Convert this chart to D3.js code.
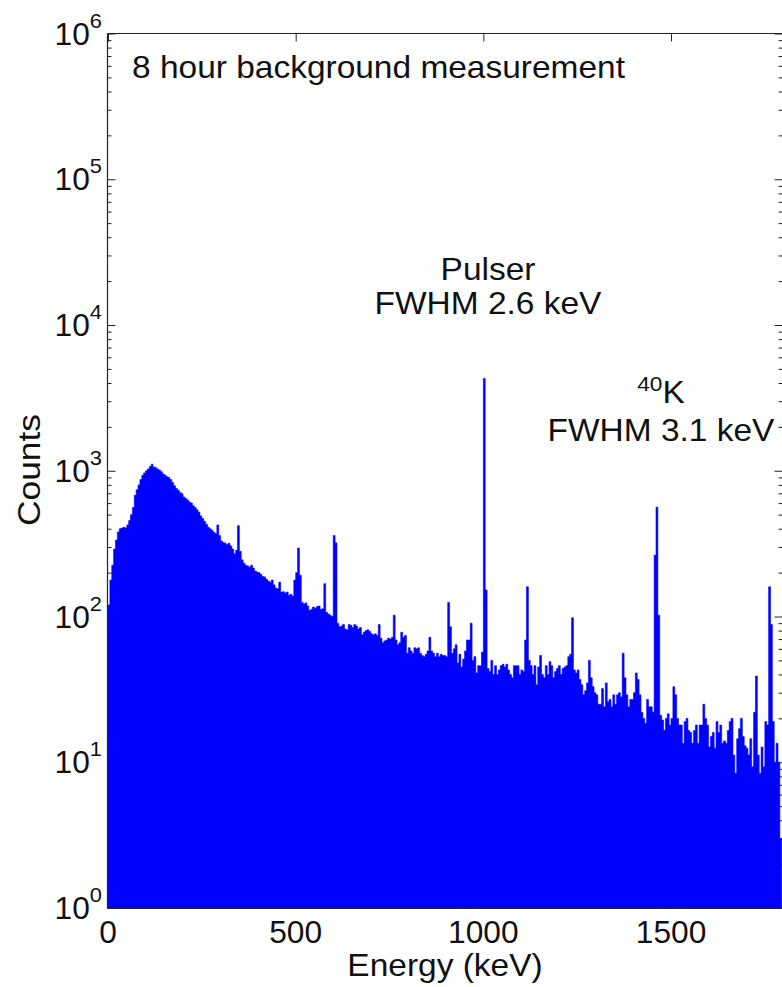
<!DOCTYPE html>
<html>
<head>
<meta charset="utf-8">
<script src="https://cdn.jsdelivr.net/npm/d3@7/dist/d3.min.js"></script>
<style>
  html, body { margin: 0; padding: 0; background: #fff; }
  svg { display: block; }
  text { font-family: "Liberation Sans", Arial, Helvetica, sans-serif; fill: #111; }
</style>
</head>
<body>
<svg id="chart" width="782" height="987"></svg>
<script>
// ---------- data (counts per 5 keV bin) ----------
const binWidthKeV = 5;
const counts0to500 = [
  120, 178, 225, 290, 335, 380, 400, 405, 410, 405,
  425, 455, 500, 560, 680, 740, 800, 870, 930, 965,
  1000, 1030, 1070, 1110, 1060, 1050, 1030, 1010, 985, 950,
  930, 910, 900, 870, 830, 790, 755, 735, 710, 695,
  660, 645, 630, 610, 600, 575, 560, 540, 520, 490,
  470, 450, 430, 410, 400, 390, 378, 370, 425, 360,
  330, 322, 318, 312, 318, 305, 290, 270, 285, 420,
  280, 245, 232, 225, 222, 218, 225, 215, 205, 202,
  200, 195, 188, 187, 180, 175, 172, 178, 165, 157,
  155, 172, 147, 148, 145, 147, 140, 142, 138, 178
];
const counts500to1000 = [
  200, 295, 192, 125, 122, 124, 118, 110, 112, 116,
  114, 117, 118, 112, 113, 168, 107, 104, 102, 100,
  360, 320, 90, 85, 86, 88, 82, 81, 88, 87,
  84, 88, 86, 82, 84, 75, 78, 80, 81, 79,
  76, 75, 76, 74, 88, 71, 66, 68, 69, 71,
  70, 72, 102, 69, 64, 66, 78, 72, 74, 56,
  61, 58, 56, 61, 60, 61, 56, 54, 53, 55,
  58, 72, 58, 56, 53, 56, 53, 55, 54, 54,
  53, 125, 85, 56, 60, 64, 48, 55, 45, 51,
  58, 69, 69, 90, 50, 53, 41, 46, 46, 57
];
const counts1000to1500 = [
  4300, 152, 44, 42, 50, 40, 46, 40, 43, 46,
  47, 45, 47, 43, 40, 38, 46, 46, 46, 40,
  43, 42, 69, 160, 50, 46, 40, 46, 34, 45,
  54, 40, 38, 46, 40, 49, 46, 38, 42, 44,
  46, 40, 44, 45, 46, 53, 55, 98, 43, 41,
  43, 37, 34, 29, 31, 35, 50, 38, 33, 30,
  29, 25, 25, 32, 24, 35, 26, 27, 24, 29,
  25, 29, 30, 28, 56, 38, 29, 24, 27, 27,
  30, 41, 37, 29, 22, 20, 18.5, 27, 24, 24,
  22, 263, 562, 102, 21, 19.5, 16.6, 20, 21.5, 18
];
const counts1500to1795 = [
  20, 33, 29, 20, 18, 18, 13.5, 19, 20, 16.5,
  16, 13.5, 16.5, 18, 13.5, 18, 18, 25, 20, 18,
  12.7, 15, 16, 12.5, 19, 16, 18, 13.5, 14, 13.5,
  16.5, 19, 20, 11.2, 8.4, 14.5, 17, 20, 15, 13,
  12.5, 11.2, 14.5, 9.3, 22, 39, 11.2, 8.4, 12.7, 9.3,
  19, 18, 160, 88, 19, 10, 13.5, 10, 3
];
const xTickValues = [0, 500, 1000, 1500];
const yTickExponents = [0, 1, 2, 3, 4, 5, 6];
const xDomain = [0, 1797];
const yDomain = [1, 1e6];
const titleText = "8 hour background measurement";
const xLabel = "Energy (keV)";
const yLabel = "Counts";
const pulserLines = ["Pulser", "FWHM 2.6 keV"];
const kLines = ["40", "K", "FWHM 3.1 keV"];

// ---------- layout ----------
const svg = d3.select("#chart");
const L = 107.5, R = 782.5, T = 33.5, B = 908.5;
const x = d3.scaleLinear().domain(xDomain).range([L + 0.5, R]);
const y = d3.scaleLog().domain(yDomain).range([B - 0.5, T]);

const counts = counts0to500.concat(counts500to1000, counts1000to1500, counts1500to1795);
const bins = counts.map((c, i) => ({ e: i * binWidthKeV, c }));
bins.push({ e: counts.length * binWidthKeV, c: counts[counts.length - 1] });

const axisColor = "#222";
const majors = yTickExponents.map(k => Math.pow(10, k));
const minors = [];
for (let k = 0; k < 6; k++) for (let m = 2; m <= 9; m++) minors.push(m * Math.pow(10, k));

function styleAxis(g) {
  g.select(".domain").remove();
  g.selectAll("line").attr("stroke", axisColor).attr("stroke-width", 1);
  g.selectAll("text").remove();
}
// ticks (drawn under the data, like the original)
const ticks = svg.append("g");
ticks.append("g").attr("transform", `translate(${L},0)`)
  .call(d3.axisLeft(y).tickValues(majors).tickSize(-8)).call(styleAxis);
ticks.append("g").attr("transform", `translate(${L},0)`)
  .call(d3.axisLeft(y).tickValues(minors).tickSize(-4)).call(styleAxis);
ticks.append("g").attr("transform", `translate(${R},0)`)
  .call(d3.axisRight(y).tickValues(majors).tickSize(-8)).call(styleAxis);
ticks.append("g").attr("transform", `translate(${R},0)`)
  .call(d3.axisRight(y).tickValues(minors).tickSize(-4)).call(styleAxis);
ticks.append("g").attr("transform", `translate(0,${T})`)
  .call(d3.axisTop(x).tickValues(xTickValues).tickSize(-8)).call(styleAxis);
ticks.append("g").attr("transform", `translate(0,${B})`)
  .call(d3.axisBottom(x).tickValues(xTickValues).tickSize(-8)).call(styleAxis);

// histogram
svg.append("defs").append("clipPath").attr("id", "clip")
  .append("rect").attr("x", L).attr("y", T).attr("width", R - L).attr("height", B - T);
const area = d3.area()
  .x(d => x(d.e))
  .y0(y(1))
  .y1(d => y(d.c))
  .curve(d3.curveStepAfter);
svg.append("path")
  .datum(bins)
  .attr("clip-path", "url(#clip)")
  .attr("fill", "#0000ff")
  .attr("stroke", "#0000ff")
  .attr("stroke-width", 0.6)
  .attr("d", area);

// frame
const frame = svg.append("g").attr("stroke", axisColor).attr("stroke-width", 1.2).attr("fill", "none");
frame.append("line").attr("x1", L).attr("x2", R + 2).attr("y1", T).attr("y2", T);
frame.append("line").attr("x1", L).attr("x2", L).attr("y1", T).attr("y2", B);
frame.append("line").attr("x1", L).attr("x2", R + 2).attr("y1", B).attr("y2", B);

// text helper: slightly widened glyphs like the original export
function label(px, py, size, sx, anchor, rot) {
  const g = svg.append("g")
    .attr("transform", `translate(${px},${py})${rot ? ` rotate(${rot})` : ""} scale(${sx},1)`);
  return g.append("text").attr("text-anchor", anchor).attr("font-size", size);
}

// y tick labels 10^k
yTickExponents.forEach(k => {
  const t = label(102, y(Math.pow(10, k)) + 11, 30.5, 1.04, "end");
  t.append("tspan").text("10");
  t.append("tspan").attr("dy", -17).attr("font-size", 21).text(k);
});
// x tick labels
xTickValues.forEach(v => {
  label(x(v), 943, 30.5, 1.04, "middle").text(v);
});
// axis titles
label(445, 976, 31, 1.08, "middle").text(xLabel);
label(40, 470, 31, 1.14, "middle", -90).text(yLabel);

// annotations
label(132, 78, 31, 1.08, "start").text(titleText);
label(488, 280, 31, 1.08, "middle").text(pulserLines[0]);
label(488, 314, 31, 1.08, "middle").text(pulserLines[1]);
const kt = label(661, 403, 31, 1.08, "middle");
kt.append("tspan").attr("font-size", 21).attr("dy", -12).text(kLines[0]);
kt.append("tspan").attr("dy", 12).text(kLines[1]);
label(661, 441, 31, 1.08, "middle").text(kLines[2]);
</script>
</body>
</html>
